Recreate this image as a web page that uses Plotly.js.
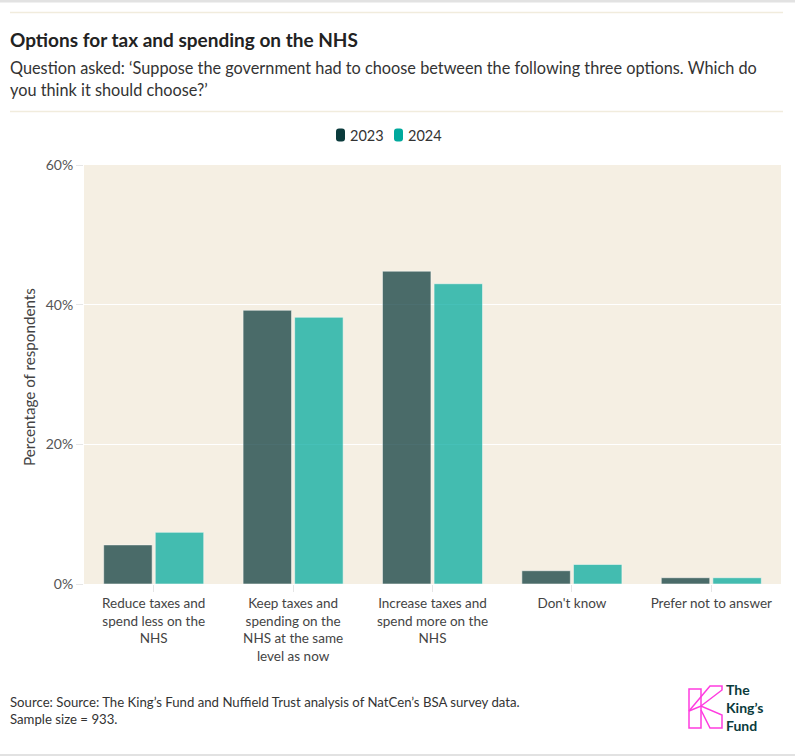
<!DOCTYPE html>
<html><head><meta charset="utf-8">
<script src="https://cdn.plot.ly/plotly-3.0.1.min.js"></script>
<style>html,body{margin:0;padding:0;background:#fff;}#chart{width:795px;height:756px;}</style>
</head><body><div id="chart"></div>
<script>
// ---- data ----
const categories = [
  "Reduce taxes and<br>spend less on the<br>NHS",
  "Keep taxes and<br>spending on the<br>NHS at the same<br>level as now",
  "Increase taxes and<br>spend more on the<br>NHS",
  "Don't know",
  "Prefer not to answer"
];
const seriesNames = ["2023", "2024"];
const values2023 = [5.6, 39.2, 44.8, 1.9, 0.9];
const values2024 = [7.4, 38.2, 43.0, 2.8, 0.9];
const yTickVals = [0, 20, 40, 60];
const yTickText = ["0%", "20%", "40%", "60%"];
const titleText = "Options for tax and spending on the NHS";
const subtitleLines = [
  "Question asked: \u2018Suppose the government had to choose between the following three options. Which do",
  "you think it should choose?\u2019"
];
const yTitle = "Percentage of respondents";
const sourceLines = [
  "Source: Source: The King\u2019s Fund and Nuffield Trust analysis of NatCen\u2019s BSA survey data.",
  "Sample size = 933."
];
const logoLines = ["The", "King\u2019s", "Fund"];

// ---- layout helpers ----
const W = 795, H = 756;
const M = {l: 84, r: 14, t: 165, b: 172};
const PW = W - M.l - M.r, PH = H - M.t - M.b;
const px = x => (x - M.l) / PW;
const py = y => (H - M.b - y) / PH;
const FONT = "Lato, 'Open Sans', sans-serif";
const darkColors = ["#0b3b3c", "#00a99d"];

const traces = [
  {type: "bar", name: seriesNames[0], x: categories, y: values2023, showlegend: false,
   marker: {color: darkColors[0], opacity: 0.73, line: {color: "rgba(255,255,255,0.55)", width: 1}}, hoverinfo: "y"},
  {type: "bar", name: seriesNames[1], x: categories, y: values2024, showlegend: false,
   marker: {color: darkColors[1], opacity: 0.72, line: {color: "rgba(255,255,255,0.55)", width: 1}}, hoverinfo: "y"}
];

function pathFromPts(pts, close) {
  let s = "M" + pts.map(p => px(p[0]) + "," + py(p[1])).join(" L");
  return close ? s + " Z" : s;
}
// rounded rectangle path in pixel coords
function roundRect(x0, y0, w, h, r) {
  const X = v => px(v), Y = v => py(v);
  return "M" + X(x0 + r) + "," + Y(y0) +
    " L" + X(x0 + w - r) + "," + Y(y0) +
    " Q" + X(x0 + w) + "," + Y(y0) + " " + X(x0 + w) + "," + Y(y0 + r) +
    " L" + X(x0 + w) + "," + Y(y0 + h - r) +
    " Q" + X(x0 + w) + "," + Y(y0 + h) + " " + X(x0 + w - r) + "," + Y(y0 + h) +
    " L" + X(x0 + r) + "," + Y(y0 + h) +
    " Q" + X(x0) + "," + Y(y0 + h) + " " + X(x0) + "," + Y(y0 + h - r) +
    " L" + X(x0) + "," + Y(y0 + r) +
    " Q" + X(x0) + "," + Y(y0) + " " + X(x0 + r) + "," + Y(y0) + " Z";
}
const pink = "#ff3ce0";
const legendSwatchX = [336, 394];
const legendTextX = [348, 406];
const legendY = 135;

const shapes = [
  {type: "line", xref: "paper", yref: "paper", x0: px(0), x1: px(W), y0: py(1), y1: py(1), line: {color: "#e2e2e2", width: 3}},
  {type: "line", xref: "paper", yref: "paper", x0: px(0), x1: px(W), y0: py(755), y1: py(755), line: {color: "#e2e2e2", width: 2}},
  {type: "line", xref: "paper", yref: "paper", x0: px(10), x1: px(783), y0: py(12.5), y1: py(12.5), line: {color: "#f1ecdd", width: 1.5}},
  {type: "line", xref: "paper", yref: "paper", x0: px(10), x1: px(783), y0: py(111.5), y1: py(111.5), line: {color: "#f1ecdd", width: 1.5}},
  {type: "path", xref: "paper", yref: "paper", path: pathFromPts([[689,689],[701,689],[701,728],[689,728]], true), line: {color: pink, width: 1.5}},
  {type: "path", xref: "paper", yref: "paper", path: pathFromPts([[689,711],[710,686],[722,686],[722,690],[701,706]], false), line: {color: pink, width: 1.5}},
  {type: "path", xref: "paper", yref: "paper", path: pathFromPts([[689,711],[701,706],[722,715],[722,728],[710,728],[701,710]], false), line: {color: pink, width: 1.5}}
];
seriesNames.forEach((n, i) => {
  shapes.push({type: "path", xref: "paper", yref: "paper", path: roundRect(legendSwatchX[i], legendY - 6.5, 9, 13, 3),
               fillcolor: darkColors[i], line: {width: 0}});
});

const ann = (text, x, y, opts) => Object.assign({
  text: text, xref: "paper", yref: "paper", x: px(x), y: py(y),
  xanchor: "left", yanchor: "middle", showarrow: false, align: "left",
  font: {family: FONT, size: 13, color: "#333"}
}, opts || {});

const annotations = [
  ann("<b>" + titleText + "</b>", 8, 40, {font: {family: FONT, size: 19, color: "#222"}}),
  ann(subtitleLines[0], 8, 67, {font: {family: FONT, size: 16.3, color: "#333"}}),
  ann(subtitleLines[1], 8, 89, {font: {family: FONT, size: 16.3, color: "#333"}}),
  ann(yTitle, 29, 377, {xanchor: "center", textangle: -90, font: {family: FONT, size: 15.2, color: "#444"}}),
  ann(sourceLines[0], 8, 702, {font: {family: FONT, size: 13.2, color: "#333"}}),
  ann(sourceLines[1], 8, 719, {font: {family: FONT, size: 13.2, color: "#333"}}),
  ann("<b>" + logoLines.join("<br>") + "</b>", 724, 707, {font: {family: FONT, size: 14, color: "#0b3b3c"}})
];
seriesNames.forEach((n, i) => {
  annotations.push(ann(n, legendTextX[i], legendY, {font: {family: FONT, size: 14.5, color: "#333"}}));
});

const layout = {
  width: W, height: H,
  margin: M,
  paper_bgcolor: "#ffffff",
  plot_bgcolor: "#f5efe3",
  font: {family: FONT, size: 13, color: "#444"},
  barmode: "group",
  bargap: 0.26,
  bargroupgap: 0.06,
  showlegend: false,
  xaxis: {type: "category", showgrid: false, zeroline: false, showline: false,
          ticks: "outside", ticklen: 7, tickcolor: "#e6e6e6", tickwidth: 1,
          tickfont: {family: FONT, size: 13.5, color: "#444"}, fixedrange: true},
  yaxis: {range: [0, 60], tickvals: yTickVals, ticktext: yTickText, showgrid: true, gridcolor: "#ffffff", gridwidth: 1,
          zeroline: false, showline: false, ticks: "outside", ticklen: 7, tickcolor: "#e6e6e6",
          tickfont: {family: FONT, size: 14, color: "#555"}, fixedrange: true},
  shapes: shapes,
  annotations: annotations
};

Plotly.newPlot("chart", traces, layout, {displayModeBar: false, staticPlot: true});
</script>
</body></html>
